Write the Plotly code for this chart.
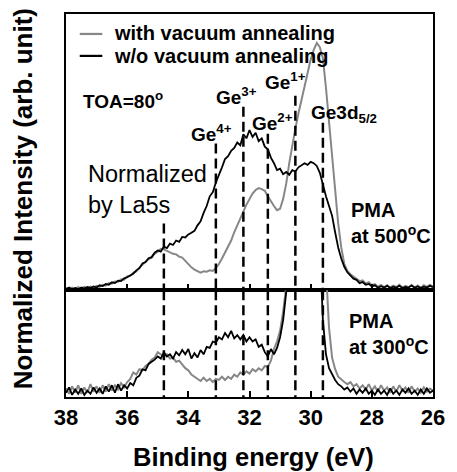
import plotly.graph_objects as go

# ---------------- data ----------------
energy = [round(38.0 - 0.1 * i, 1) for i in range(121)]  # binding energy grid (eV), 38.0 -> 26.0

# PMA at 500 C (upper panel), normalized intensity (arb.)
upper_wo = [
    0.5, 1.0, 0.3, 0.8, 0.4, 1.0, 0.6, 1.2, 0.8, 1.4,
    1.0, 1.8, 1.5, 2.3, 2.0, 2.9, 2.6, 3.5, 3.3, 4.3,
    4.7, 5.5, 6.0, 7.2, 8.0, 9.7, 10.2, 11.6, 12.0, 13.6,
    14.4, 14.0, 15.8, 15.3, 16.9, 16.4, 18.0, 17.5, 19.3, 19.1,
    20.2, 20.8, 21.5, 23.5, 25.0, 28.0, 30.5, 34.0, 35.5, 39.0,
    41.5, 44.5, 47.5, 48.5, 50.5, 51.5, 53.5, 52.5, 56.5, 55.0,
    58.0, 55.5, 57.0, 54.0, 55.0, 52.0, 51.0, 48.0, 46.0, 43.5,
    44.0, 42.0, 42.8, 41.8, 43.5, 43.0, 44.5, 45.2, 46.0, 45.4,
    46.5, 46.0, 45.0, 42.5, 38.0, 34.0, 30.5, 27.0, 21.0, 15.5,
    11.5, 8.5, 6.5, 5.5, 4.2, 3.8, 2.6, 3.0, 2.0, 2.3,
    1.4, 1.8, 0.9, 1.5, 1.0, 1.6, 0.8, 1.3, 0.9, 1.6,
    0.8, 1.2, 1.0, 1.7, 0.9, 1.4, 0.8, 1.3, 1.0, 1.6,
    1.1,
]
upper_with = [
    0.8, 0.4, 1.0, 0.5, 1.1, 0.6, 1.2, 0.7, 1.3, 0.9,
    1.6, 1.2, 2.0, 1.7, 2.6, 2.4, 3.2, 3.0, 4.0, 3.8,
    5.0, 5.3, 6.4, 6.8, 8.2, 9.2, 10.0, 11.3, 11.8, 13.3,
    14.0, 15.0, 14.8, 14.2, 13.8, 13.2, 13.0, 12.2, 11.8, 10.5,
    9.6, 8.3, 7.5, 6.8, 6.4, 6.9, 6.7, 7.2, 7.0, 8.0,
    9.5, 11.5, 13.5, 15.8, 18.0, 21.0, 23.5, 26.4, 28.5, 31.0,
    33.0, 35.0, 36.3, 37.0, 36.6, 36.0, 34.0, 32.0, 30.5, 29.0,
    29.5, 33.0, 38.6, 46.0, 53.0, 58.5, 64.0, 69.0, 74.5, 78.5,
    83.5, 87.0, 89.5, 88.0, 84.0, 73.3, 61.4, 48.5, 35.5, 24.2,
    15.5, 9.5, 7.0, 5.8, 5.0, 4.2, 3.3, 3.6, 2.5, 2.9,
    1.8, 2.2, 1.3, 1.9, 1.1, 1.8, 1.0, 1.7, 1.2, 2.0,
    1.0, 1.6, 1.1, 1.9, 1.0, 1.7, 0.9, 1.8, 1.2, 1.9,
    1.3,
]

# PMA at 300 C (lower panel), normalized intensity (arb.), main peak runs off scale
lower_wo = [
    4, 9, 2, 7, 3, 8, 2, 6, 3, 9,
    4, 8, 3, 10, 5, 11, 4, 12, 6, 11,
    8, 13, 11, 18, 20, 26, 25, 31, 33, 35,
    38, 36, 42, 38, 40, 36, 42, 39, 44, 40,
    45, 36, 41, 37, 44, 40, 47, 46, 52, 51,
    56, 54, 60, 56, 62, 55, 58, 54, 58, 52,
    56, 52, 54, 47, 49, 42, 38, 45, 40, 46,
    56, 72, 98, 135, 165, 185, 200, 210, 215, 215,
    210, 200, 180, 140, 72, 40, 27, 21, 16, 12,
    10, 7, 9, 5, 8, 3, 7, 4, 8, 3,
    6, 2, 7, 3, 6, 2, 8, 3, 6, 2,
    7, 4, 8, 3, 6, 2, 7, 3, 8, 4,
    6,
]
lower_with = [
    8, 3, 10, 4, 11, 3, 9, 4, 12, 5,
    10, 4, 11, 5, 12, 6, 11, 7, 13, 9,
    14, 17, 23, 21, 26, 25, 29, 31, 35, 37,
    42, 40, 38, 40, 36, 37, 33, 34, 30, 27,
    25, 21, 19, 17, 15, 18, 15, 17, 14, 17,
    16, 19, 16, 19, 17, 21, 19, 23, 21, 24,
    22, 26, 24, 27, 25, 29, 28, 34, 45, 52,
    62, 80, 105, 140, 180, 215, 240, 260, 275, 285,
    290, 285, 270, 240, 190, 120, 65, 37, 26, 19,
    16, 14, 12, 14, 10, 12, 8, 11, 7, 12,
    6, 10, 5, 11, 6, 9, 4, 10, 5, 11,
    6, 9, 4, 10, 5, 8, 4, 9, 5, 8,
    6,
]

# chemical-state positions (eV) and labels
peak_energy = [34.8, 33.1, 32.2, 31.4, 30.5, 29.6]
peak_marker_top = [24.2, 53.1, 66.4, 56.7, 70.4, 60.6]  # where each dashed line starts in upper panel

x_ticks = [38, 36, 34, 32, 30, 28, 26]
series_names = ["with vacuum annealing", "w/o vacuum annealing"]

# ---------------- style / layout ----------------
W, H = 457, 472
L, R, T, B = 66, 17, 13, 75
PW, PH = W - L - R, H - T - B
split = (397 - 290) / PH
FONT = "Liberation Sans, Arial, sans-serif"
GRAY = "#878787"
BLACK = "#000000"


def px(x):
    return (x - L) / PW


def py(y):
    return 1 - (y - T) / PH


fig = go.Figure()
fig.add_trace(go.Scatter(x=energy, y=upper_with, mode="lines", line=dict(color=GRAY, width=2),
                         name=series_names[0], xaxis="x", yaxis="y", showlegend=False))
fig.add_trace(go.Scatter(x=energy, y=upper_wo, mode="lines", line=dict(color=BLACK, width=1.8),
                         name=series_names[1], xaxis="x", yaxis="y", showlegend=False))
fig.add_trace(go.Scatter(x=energy, y=lower_with, mode="lines", line=dict(color=GRAY, width=2),
                         name=series_names[0], xaxis="x2", yaxis="y2", showlegend=False))
fig.add_trace(go.Scatter(x=energy, y=lower_wo, mode="lines", line=dict(color=BLACK, width=1.8),
                         name=series_names[1], xaxis="x2", yaxis="y2", showlegend=False))

shapes = []
for e, top in zip(peak_energy, peak_marker_top):
    shapes.append(dict(type="line", xref="x", yref="y", x0=e, x1=e, y0=top, y1=0,
                       line=dict(color="black", width=2.5, dash="10px,5px")))
    shapes.append(dict(type="line", xref="x2", yref="y2", x0=e, x1=e, y0=100, y1=0,
                       line=dict(color="black", width=2.5, dash="10px,5px")))

# legend glyphs
for yy, col in [(33, GRAY), (55, BLACK)]:
    shapes.append(dict(type="line", xref="paper", yref="paper", x0=px(80), x1=px(103), y0=py(yy), y1=py(yy),
                       line=dict(color=col, width=2.2)))

bold = dict(family=FONT, size=19, color="black", weight="bold")
annotations = []


def note(text, x, y, font=None, **kw):
    annotations.append(dict(text=text, xref="paper", yref="paper", x=px(x), y=py(y),
                            xanchor=kw.pop("xanchor", "left"), yanchor=kw.pop("yanchor", "middle"),
                            showarrow=False, font=font or bold, align=kw.pop("align", "left"), **kw))


note(series_names[0], 113, 32, font=dict(bold, size=20))
note(series_names[1], 113, 55, font=dict(bold, size=20))
note("TOA=80<sup>o</sup>", 81, 99)
note("Ge<sup>3+</sup>", 217, 95)
note("Ge<sup>1+</sup>", 267, 80)
note("Ge<sup>2+</sup>", 254, 121)
note("Ge<sup>4+</sup>", 191, 132)
note("Ge3d<sub>5/2</sub>", 314, 113)
note("Normalized<br>by La5s", 86, 189, font=dict(family=FONT, size=23.5, color="black"))
note("PMA<br>at 500<sup>o</sup>C", 354, 223, font=dict(bold, size=20))
note("PMA<br>at 300<sup>o</sup>C", 352, 334, font=dict(bold, size=20))
note("Normalized Intensity (arb. unit)", 22, 198, font=dict(bold, size=26),
     xanchor="center", yanchor="middle", textangle=-90, align="center")
note("Binding energy (eV)", 257, 457, font=dict(bold, size=25.5), xanchor="center", align="center")

axis_common = dict(showline=True, linecolor="black", linewidth=2, mirror=True, zeroline=False,
                   showgrid=False)
fig.update_layout(
    width=W, height=H,
    margin=dict(l=L, r=R, t=T, b=B, pad=0),
    paper_bgcolor="white", plot_bgcolor="white",
    font=dict(family=FONT, color="black"),
    showlegend=False,
    xaxis=dict(axis_common, domain=[0, 1], range=[38, 26], anchor="y", tickvals=x_ticks,
               ticks="inside", ticklen=6, tickwidth=1.5, tickcolor="black", showticklabels=False),
    yaxis=dict(axis_common, domain=[split, 1], range=[0, 100], anchor="x", showticklabels=False,
               ticks=""),
    xaxis2=dict(axis_common, domain=[0, 1], range=[38, 26], anchor="y2", tickvals=x_ticks,
                ticktext=[str(t) for t in x_ticks],
                ticks="inside", ticklen=6, tickwidth=1.5, tickcolor="black",
                tickfont=dict(family=FONT, size=22, color="black", weight="bold")),
    yaxis2=dict(axis_common, domain=[0, split], range=[0, 100], anchor="x2", showticklabels=False,
                ticks=""),
    shapes=shapes,
    annotations=annotations,
)

fig.write_html("out.html")
